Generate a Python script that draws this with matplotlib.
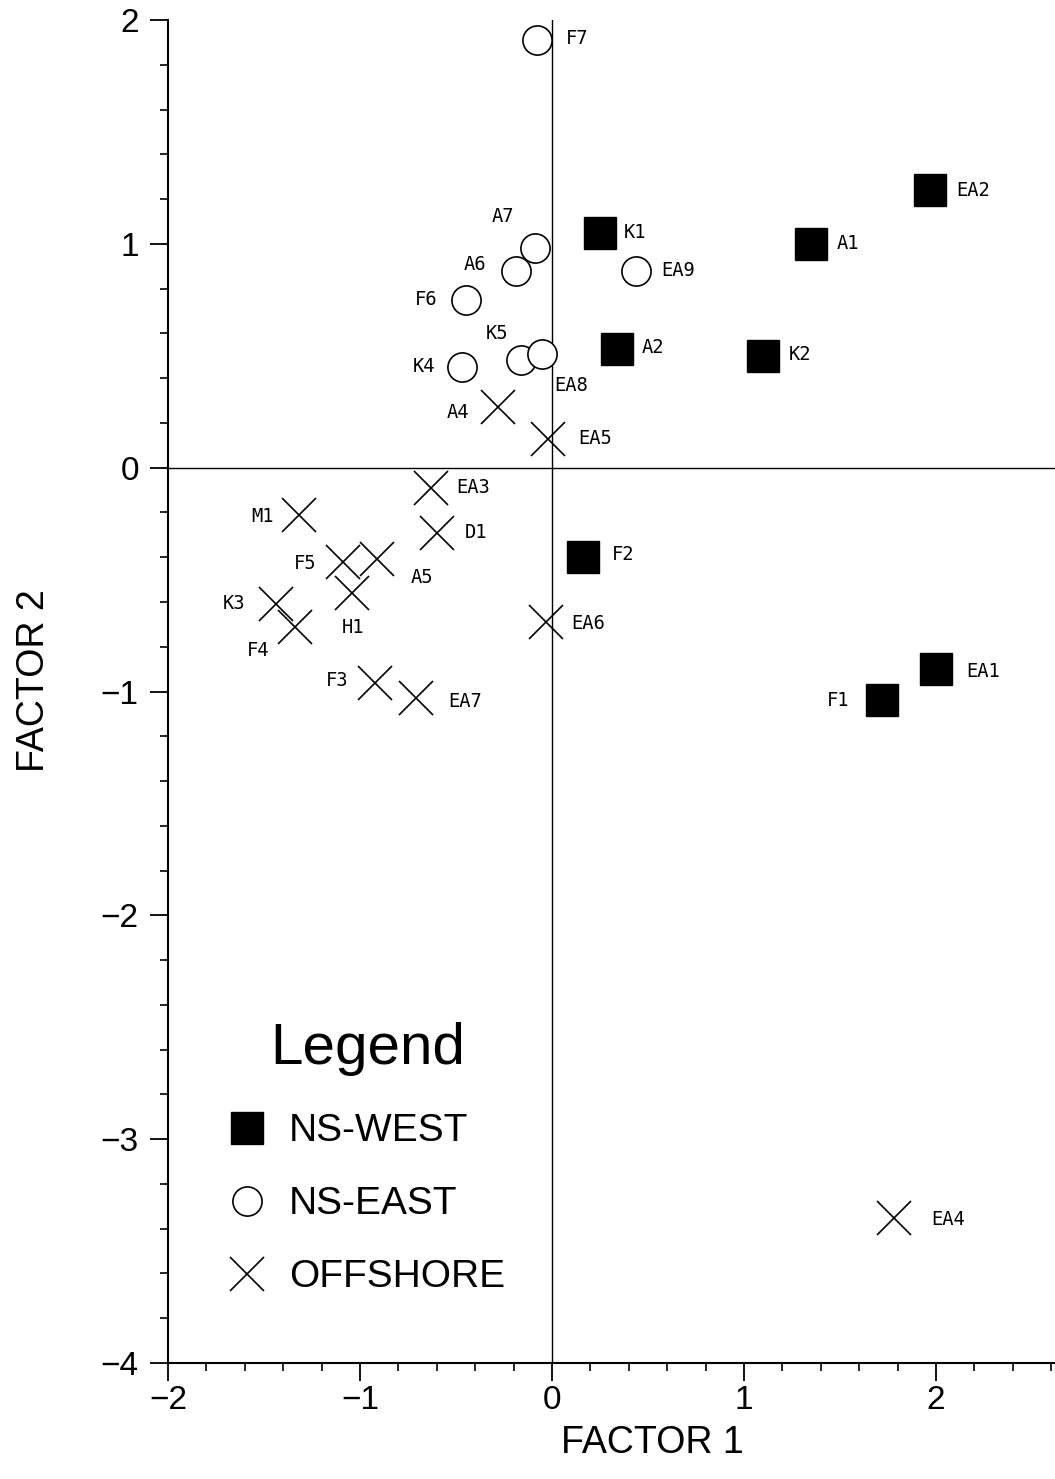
import matplotlib
matplotlib.use("Agg")
import matplotlib.pyplot as plt
from matplotlib.lines import Line2D

# factor scores
west_names = ["EA2", "A1", "K1", "K2", "A2", "F2", "EA1", "F1"]
west_x = [1.97, 1.35, 0.25, 1.10, 0.34, 0.16, 2.00, 1.72]
west_y = [1.24, 1.00, 1.05, 0.50, 0.53, -0.40, -0.90, -1.04]

east_names = ["F7", "A7", "A6", "F6", "EA9", "K4", "K5", "EA8"]
east_x = [-0.08, -0.09, -0.19, -0.45, 0.44, -0.47, -0.16, -0.05]
east_y = [1.91, 0.98, 0.88, 0.75, 0.88, 0.45, 0.48, 0.51]

off_names = ["A4", "EA5", "EA3", "M1", "D1", "F5", "A5", "H1", "K3", "F4",
             "F3", "EA7", "EA6", "EA4"]
off_x = [-0.28, -0.02, -0.63, -1.32, -0.60, -1.09, -0.91, -1.04, -1.44, -1.34,
         -0.92, -0.71, -0.03, 1.78]
off_y = [0.27, 0.13, -0.09, -0.21, -0.29, -0.42, -0.41, -0.56, -0.61, -0.71,
         -0.96, -1.03, -0.69, -3.35]

# label placement: offset in pixels (dx, dy down positive) and alignment
lab_pos = {
    "EA2": (26, 0, "left"), "A1": (25, 0, "left"), "K1": (24, 0, "left"),
    "K2": (26, -1, "left"), "A2": (24, -2, "left"), "F2": (29, -3, "left"),
    "EA1": (30, 2, "left"), "F1": (-33, 0, "right"),
    "F7": (29, -2, "left"), "A7": (-21, -32, "right"), "A6": (-29, -6, "right"),
    "F6": (-28, 0, "right"), "EA9": (25, 0, "left"), "K4": (-26, 0, "right"),
    "K5": (-13, -27, "right"), "EA8": (12, 32, "left"),
    "A4": (-29, 5, "right"), "EA5": (30, 0, "left"), "EA3": (25, 0, "left"),
    "M1": (-25, 2, "right"), "D1": (28, 0, "left"), "F5": (-26, 2, "right"),
    "A5": (33, 18, "left"), "H1": (1, 34, "center"), "K3": (-30, -1, "right"),
    "F4": (-25, 24, "right"), "F3": (-27, -2, "right"), "EA7": (33, 3, "left"),
    "EA6": (25, 1, "left"), "EA4": (38, 2, "left"),
}

plt.rcParams["font.family"] = ["Liberation Sans", "DejaVu Sans"]
fig = plt.figure(figsize=(10.55, 14.79), dpi=100)
ax = fig.add_axes([168 / 1055, 116 / 1479, 887 / 1055, 1343 / 1479])

ax.plot(west_x, west_y, "s", color="black", ms=23, ls="none", label="NS-WEST")
ax.plot(east_x, east_y, "o", mfc="white", mec="black", mew=1.2, ms=21, ls="none",
        label="NS-EAST")
ax.plot(off_x, off_y, "x", color="black", mew=1.2, ms=24, ls="none", label="OFFSHORE")

for names, xs, ys in [(west_names, west_x, west_y), (east_names, east_x, east_y),
                      (off_names, off_x, off_y)]:
    for n, x, y in zip(names, xs, ys):
        dx, dy, ha = lab_pos[n]
        ax.annotate(n, (x, y), xytext=(dx * 0.72, -dy * 0.72), textcoords="offset points",
                    ha=ha, va="center", fontsize=13.5, family="DejaVu Sans Mono")

ax.axhline(0, color="black", lw=1.0, zorder=0)
ax.axvline(0, color="black", lw=1.0, zorder=0)

ax.set_xlim(-2, 2.62)
ax.set_ylim(-4, 2)
ax.spines["top"].set_visible(False)
ax.spines["right"].set_visible(False)
for s in ("left", "bottom"):
    ax.spines[s].set_linewidth(1.5)

ax.set_xticks([-2, -1, 0, 1, 2])
ax.set_yticks([-4, -3, -2, -1, 0, 1, 2])
ax.set_xticks([i / 5 for i in range(-10, 14)], minor=True)
ax.set_yticks([i / 5 for i in range(-20, 11)], minor=True)
ax.tick_params(which="major", length=13, width=1.3, labelsize=24)
ax.tick_params(which="minor", length=6, width=1.2)
ax.tick_params(axis="x", which="major", pad=3)
ax.tick_params(axis="y", which="major", pad=8)

ax.set_xlabel("FACTOR 1", fontsize=27)
ax.set_ylabel("FACTOR 2", fontsize=27)
ax.xaxis.set_label_coords(0.546, -0.046)
ax.yaxis.set_label_coords(-0.131, 0.508)

handles = [Line2D([], [], marker="s", color="black", ls="none", ms=23),
           Line2D([], [], marker="o", mfc="white", mec="black", mew=1.2, ls="none", ms=21),
           Line2D([], [], marker="x", color="black", mew=1.2, ls="none", ms=24)]
leg = ax.legend(handles, ["NS-WEST", "NS-EAST", "OFFSHORE"], title="Legend",
                loc="center", bbox_to_anchor=(0.2255, 0.152), frameon=False,
                fontsize=28, title_fontsize=42, handlelength=0.8,
                handletextpad=0.68, labelspacing=0.95)

fig.savefig("out.png", dpi=100)
